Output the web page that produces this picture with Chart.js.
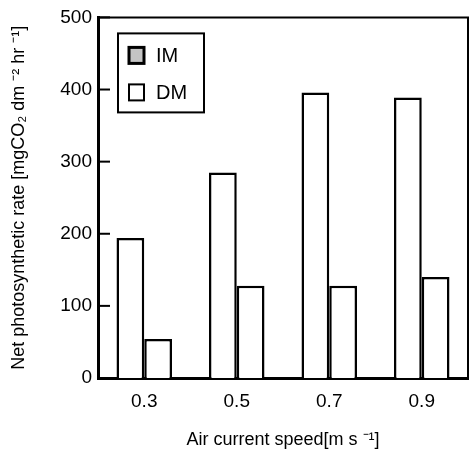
<!DOCTYPE html>
<html>
<head>
<meta charset="utf-8">
<script src="https://cdn.jsdelivr.net/npm/chart.js@4"></script>
<style>
  html, body { margin: 0; padding: 0; background: #fff; }
  #wrap { width: 470px; height: 455px; }
</style>
</head>
<body>
<div id="wrap"><canvas id="chart" width="470" height="455"></canvas></div>
<script>
// Dados
const categories = ['0.3', '0.5', '0.7', '0.9'];
const imValues = [194, 285, 396, 389];
const dmValues = [54, 128, 128, 140];
const seriesLabels = ['IM', 'DM'];
const yMin = 0;
const yMax = 500;
const yStep = 100;

const FONT = 'Liberation Sans, Arial, Helvetica, sans-serif';

// Moldura (topo/direita), ticks internos e legenda em caixa
const framePlugin = {
  id: 'frame',
  afterDraw(chart) {
    const { ctx, chartArea: a, scales } = chart;
    ctx.save();
    ctx.strokeStyle = '#000';
    ctx.lineWidth = 2;
    ctx.beginPath();
    ctx.moveTo(a.left, a.top);
    ctx.lineTo(a.right, a.top);
    ctx.lineTo(a.right, a.bottom);
    ctx.stroke();

    // ticks para dentro no eixo y
    scales.y.ticks.forEach(t => {
      const y = scales.y.getPixelForValue(t.value);
      ctx.beginPath();
      ctx.moveTo(a.left, y);
      ctx.lineTo(a.left + 12, y);
      ctx.stroke();
    });

    // legenda
    const bx = a.left + 20, by = a.top + 16, bw = 86, bh = 79;
    ctx.fillStyle = '#fff';
    ctx.fillRect(bx, by, bw, bh);
    ctx.lineWidth = 2;
    ctx.strokeRect(bx, by, bw, bh);
    ctx.font = '20px ' + FONT;
    ctx.textBaseline = 'middle';
    chart.data.datasets.forEach((ds, i) => {
      const cy = by + 22 + i * 37;
      ctx.fillStyle = ds.legendFill;
      ctx.fillRect(bx + 11, cy - 8, 15, 16);
      ctx.lineWidth = i === 0 ? 3 : 2;
      ctx.strokeRect(bx + 11, cy - 8, 15, 16);
      ctx.fillStyle = '#000';
      ctx.fillText(ds.label, bx + 38, cy + 1);
    });
    ctx.restore();
  }
};

new Chart(document.getElementById('chart'), {
  type: 'bar',
  data: {
    labels: categories,
    datasets: [
      { label: seriesLabels[0], data: imValues, backgroundColor: '#fff', borderColor: '#000', borderWidth: 2.5, legendFill: '#c4c4c4' },
      { label: seriesLabels[1], data: dmValues, backgroundColor: '#fff', borderColor: '#000', borderWidth: 2.5, legendFill: '#fff' }
    ]
  },
  options: {
    responsive: false,
    animation: false,
    layout: { padding: { left: 2, right: 2, top: 17, bottom: 4 } },
    categoryPercentage: 0.6,
    barPercentage: 1.0,
    plugins: {
      legend: { display: false },
      tooltip: { enabled: false }
    },
    scales: {
      x: {
        grid: { display: false, drawTicks: false },
        border: { display: true, color: '#000', width: 3 },
        ticks: { color: '#000', padding: 12, font: { family: FONT, size: 19 } },
        title: {
          display: true,
          text: 'Air current speed[m s \u207B\u00B9]',
          color: '#000',
          padding: { top: 0, bottom: 0 },
          font: { family: FONT, size: 18 }
        },
        afterFit: (scale) => { scale.height = 73; }
      },
      y: {
        min: yMin,
        max: yMax,
        grid: { display: false, drawTicks: false },
        border: { display: true, color: '#000', width: 3 },
        ticks: { stepSize: yStep, color: '#000', padding: 6, font: { family: FONT, size: 19 } },
        title: {
          display: true,
          text: 'Net photosynthetic rate [mgCO\u2082 dm \u207B\u00B2 hr \u207B\u00B9]',
          color: '#000',
          padding: { top: 6, bottom: 0 },
          font: { family: FONT, size: 18 }
        },
        afterFit: (scale) => { scale.width = 96; }
      }
    }
  },
  plugins: [framePlugin]
});
</script>
</body>
</html>
